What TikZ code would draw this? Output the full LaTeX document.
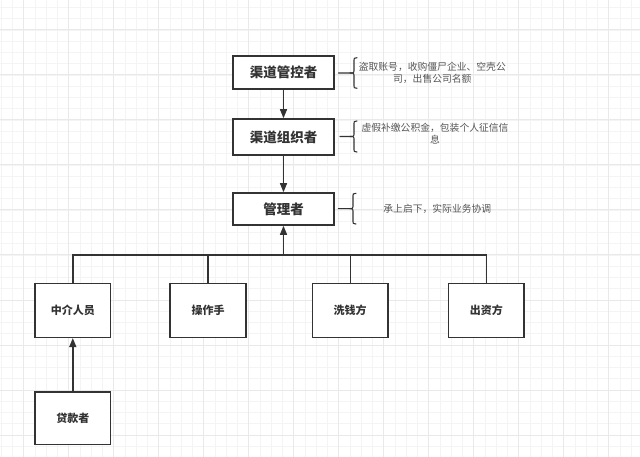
\documentclass[tikz,border=0pt]{standalone}
\usepackage{fontspec}
\setmainfont{Noto Sans CJK SC}
\usetikzlibrary{arrows.meta}
\definecolor{ln}{HTML}{333333}
\definecolor{nt}{HTML}{555555}
\definecolor{gminor}{HTML}{F4F4F4}
\definecolor{gmajor}{HTML}{E9E9E9}
\newcommand\mycurly[4]{%
  \pgfmathsetmacro\cm{(#3+#4)/2}%
  \pgfmathsetmacro\cx{#2-3}%
  \draw[brc] (#2,#3) .. controls (\cx,#3) .. (\cx,#3+5) -- (\cx,\cm-4) .. controls (\cx,\cm) .. (\cx-4,\cm) -- (#1,\cm);
  \draw[brc] (#2,#4) .. controls (\cx,#4) .. (\cx,#4-5) -- (\cx,\cm+4) .. controls (\cx,\cm) .. (\cx-4,\cm);
}
\begin{document}
\begin{tikzpicture}[x=1pt,y=-1pt,
  box/.style={draw=ln,line width=1.6pt,fill=white,text=ln,inner sep=0pt},
  topbox/.style={box,minimum width=101pt,font=\bfseries\fontsize{13.5}{15}\selectfont},
  botbox/.style={box,minimum width=75.5pt,minimum height=54pt,font=\bfseries\fontsize{11}{13}\selectfont},
  note/.style={text=nt,align=center,font=\fontsize{9.8}{12.4}\selectfont,inner sep=0pt},
  conn/.style={draw=ln,line width=1.4pt},
  arr/.style={conn,-{Triangle[length=9pt,width=7pt]}},
  brc/.style={draw=ln,line width=1.1pt,line cap=round}]
\fill[white] (0,0) rectangle (640,457);
\useasboundingbox (0,0) rectangle (640,457);
% grid
\foreach \x in {1.2,12.45,...,640} \draw[gminor,line width=0.8pt] (\x,0) -- (\x,457);
\foreach \y in {7.5,18.75,...,457} \draw[gminor,line width=0.8pt] (0,\y) -- (640,\y);
\foreach \x in {23.7,68.7,...,640} \draw[gmajor,line width=1pt] (\x,0) -- (\x,457);
\foreach \y in {30,75,...,457} \draw[gmajor,line width=1pt] (0,\y) -- (640,\y);
% top boxes
\node[topbox,minimum height=33pt] (gk) at (283.5,72.5) {渠道管控者};
\node[topbox,minimum height=36pt] (zz) at (283.5,137) {渠道组织者};
\node[topbox,minimum height=32pt] (gl) at (283.5,209) {管理者};
% bottom boxes
\node[botbox] (zj) at (72.8,310.3) {中介人员};
\node[botbox] (cz) at (208,310.3) {操作手};
\node[botbox] (xq) at (350.2,310.3) {洗钱方};
\node[botbox] (cy) at (486.3,310.3) {出资方};
\node[botbox,minimum height=52.6pt] (dk) at (72.8,418) {贷款者};
% notes
\node[note] (n1) at (432.3,73) {盗取账号，收购僵尸企业、空壳公\\司，出售公司名额};
\node[note] (n2) at (435,133.5) {虚假补缴公积金，包装个人征信信\\息};
\node[note] (n3) at (437.3,209) {承上启下，实际业务协调};
% braces
\mycurly{338.3}{357}{57.7}{88.3}
\mycurly{340}{357}{121}{152}
\mycurly{338.3}{356}{193.3}{224}
% connectors
\coordinate (bus) at (283.5,255);
\draw[arr] (gk.south) -- (zz.north);
\draw[arr] (zz.south) -- (gl.north);
\draw[arr] (bus) -- (gl.south);
\draw[conn] (zj.north) |- (bus);
\draw[conn] (cz.north) |- (bus);
\draw[conn] (xq.north) |- (bus);
\draw[conn] (cy.north) |- (bus);
\draw[arr] (dk.north) -- (zj.south);
\end{tikzpicture}
\end{document}
